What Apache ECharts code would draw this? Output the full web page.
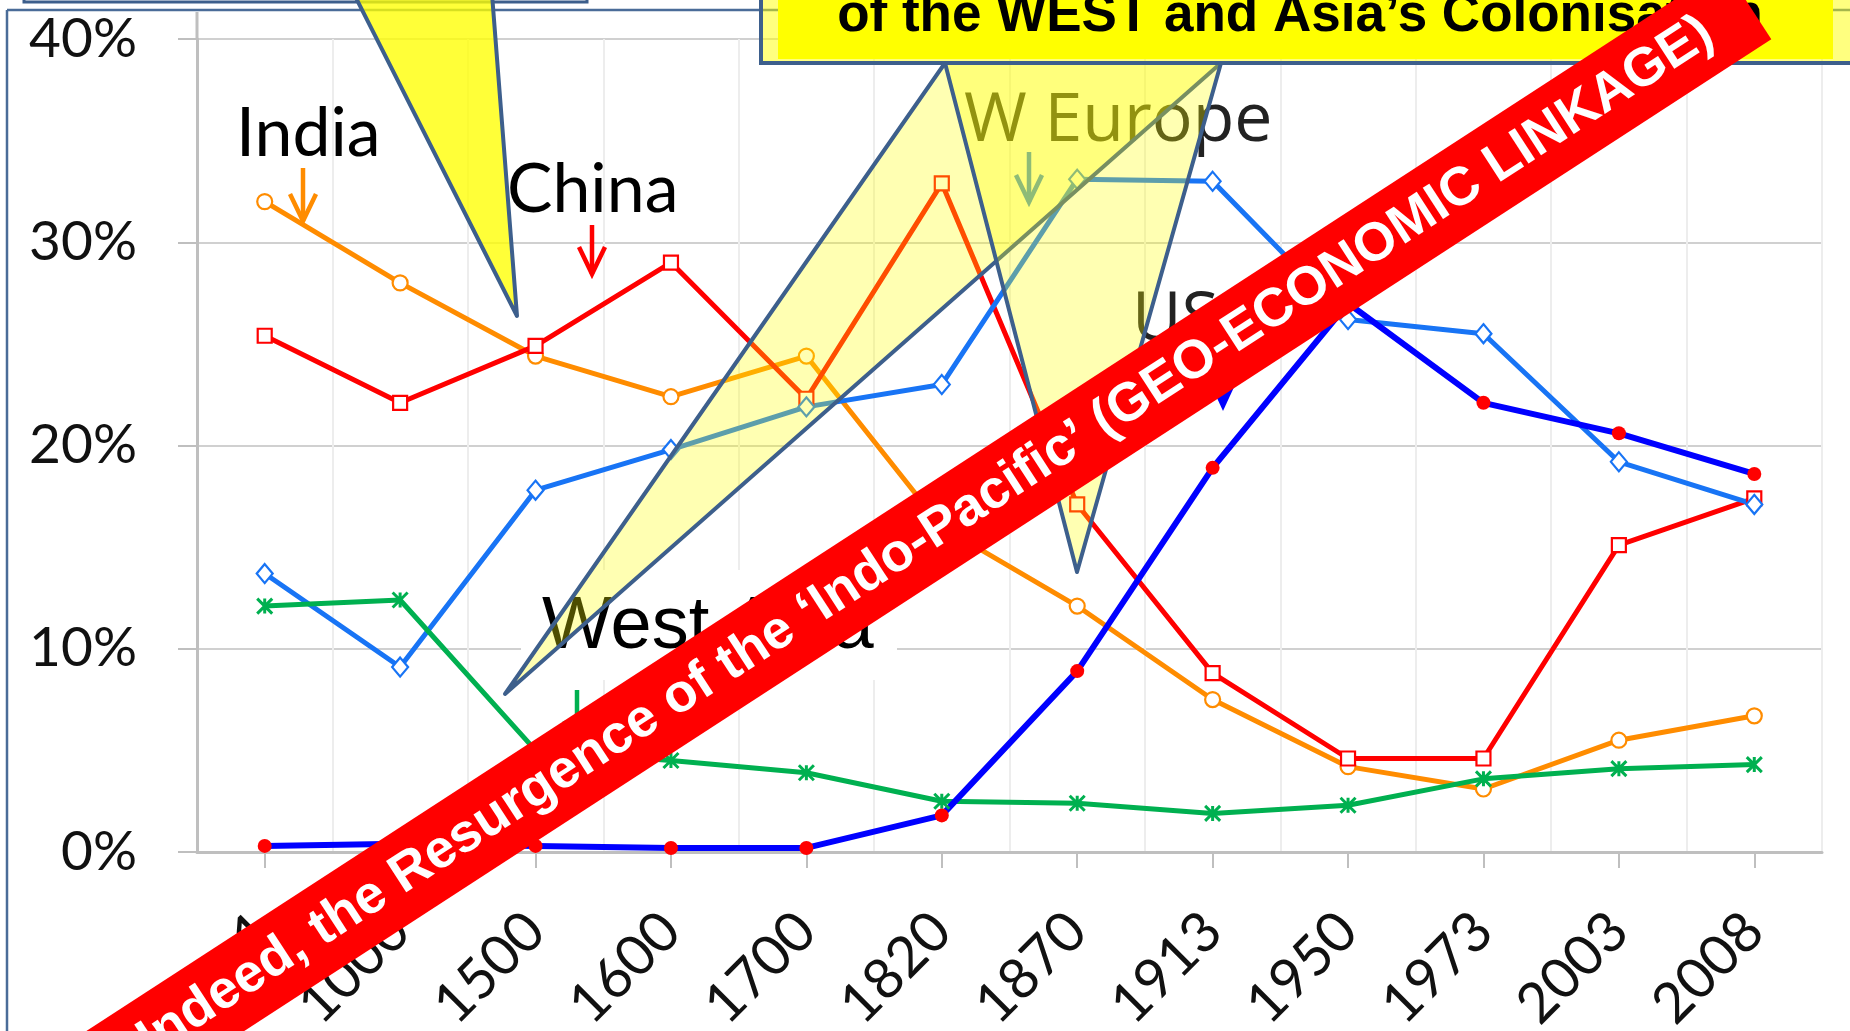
<!DOCTYPE html>
<html>
<head>
<meta charset="utf-8">
<script src="https://cdn.jsdelivr.net/npm/echarts@6/dist/echarts.min.js"></script>
<style>
  html, body { margin: 0; padding: 0; background: #fff; }
  #chart { width: 1850px; height: 1031px; }
</style>
</head>
<body>
<div id="chart"></div>
<script>
// ---- data (share of world GDP, %) ----
const categories = ['1', '1000', '1500', '1600', '1700', '1820', '1870', '1913', '1950', '1973', '2003', '2008'];
const india    = [32.0, 28.0, 24.4, 22.4, 24.4, 16.0, 12.1, 7.5, 4.2, 3.1, 5.5, 6.7];
const china    = [25.4, 22.1, 24.9, 29.0, 22.3, 32.9, 17.1, 8.8, 4.6, 4.6, 15.1, 17.4];
const wEurope  = [13.7, 9.1, 17.8, 19.8, 21.9, 23.0, 33.1, 33.0, 26.2, 25.5, 19.2, 17.1];
const us       = [0.3, 0.4, 0.3, 0.2, 0.2, 1.8, 8.9, 18.9, 27.0, 22.1, 20.6, 18.6];
const westAsia = [12.1, 12.4, 5.0, 4.5, 3.9, 2.5, 2.4, 1.9, 2.3, 3.6, 4.1, 4.3];
const yMin = 0, yMax = 40, yStep = 10;

const bannerText = 'Indeed, the Resurgence of the \u2018Indo-Pacific\u2019 (GEO-ECONOMIC LINKAGE)';
const calloutText = 'of the WEST and Asia\u2019s Colonisation';

const chart = echarts.init(document.getElementById('chart'), null, { renderer: 'canvas' });

const ORANGE = '#FF8C00', RED = '#FF0000', LBLUE = '#1874F5', DBLUE = '#0000FF', GREEN = '#00B050';
const EDGE = '#3D5F8C';
const calibri = 'Lato, "Noto Sans", sans-serif';

function lineSeries(name, data, color, symbol, size, fill, extra) {
  return Object.assign({
    name: name, type: 'line', data: data,
    symbol: symbol, symbolSize: size, showAllSymbol: true,
    lineStyle: { color: color, width: 5 },
    itemStyle: { color: fill, borderColor: color, borderWidth: 2.2 },
    emphasis: { disabled: true },
    z: 3
  }, extra || {});
}

function arrow(x, y1, y2, color, filled) {
  const els = [{
    type: 'polyline', z: 20,
    shape: { points: [[x, y1], [x, filled ? y2 - 20 : y2]] },
    style: { stroke: color, lineWidth: 4.5, fill: null }
  }];
  if (filled) {
    els.push({ type: 'polygon', z: 20,
      shape: { points: [[x - 12, y2 - 26], [x, y2], [x + 12, y2 - 26]] },
      style: { fill: color } });
  } else {
    els.push({ type: 'polyline', z: 20,
      shape: { points: [[x - 13, y2 - 27], [x, y2], [x + 13, y2 - 27]] },
      style: { stroke: color, lineWidth: 4.5, fill: null, lineJoin: 'miter' } });
  }
  return els;
}

const graphics = [].concat(
  [
    // outer frame lines
    { type: 'line', z: 10, shape: { x1: 7, y1: 10, x2: 1850, y2: 10 }, style: { stroke: '#4A6C98', lineWidth: 2.5 } },
    { type: 'line', z: 10, shape: { x1: 7, y1: 10, x2: 7, y2: 1031 }, style: { stroke: '#4A6C98', lineWidth: 2.5 } },
    // y axis extension above 40%
    { type: 'line', z: 10, shape: { x1: 197, y1: 12, x2: 197, y2: 39 }, style: { stroke: '#BFBFBF', lineWidth: 3 } },
    // labels
    { type: 'text', z: 20, style: { text: 'India', x: 236, y: 134, fill: '#000', font: '68px ' + calibri, textAlign: 'left', textVerticalAlign: 'middle' } },
    { type: 'text', z: 20, style: { text: 'China', x: 507, y: 190, fill: '#000', font: '68px ' + calibri, textAlign: 'left', textVerticalAlign: 'middle' } },
    { type: 'text', z: 20, style: { text: 'W Europe', x: 964, y: 122, fill: '#222', font: '68px "Open Sans", sans-serif', textAlign: 'left', textVerticalAlign: 'middle' } },
    { type: 'text', z: 20, style: { text: 'US', x: 1132, y: 321, fill: '#222', font: '68px "Open Sans", sans-serif', textAlign: 'left', textVerticalAlign: 'middle' } },
    { type: 'rect', z: 19, shape: { x: 521, y: 570, width: 376, height: 110 }, style: { fill: '#fff' } },
    { type: 'text', z: 20, style: { text: 'West Asia', x: 542, y: 628, fill: '#000', font: '74px "Liberation Sans", Arial, sans-serif', textAlign: 'left', textVerticalAlign: 'middle' } }
  ],
  arrow(303, 168, 221, ORANGE, false),
  arrow(592, 225, 274, RED, false),
  arrow(1029, 152, 202, LBLUE, false),
  arrow(1223, 345, 411, DBLUE, true),
  arrow(577, 690, 748, GREEN, false),
  [
    // semi-transparent callout pointers
    { type: 'polygon', z: 30, shape: { points: [[945, 63], [1221, 63], [505, 694]] },
      style: { fill: 'rgba(255,255,0,0.3)', stroke: EDGE, lineWidth: 4, lineJoin: 'round' } },
    { type: 'polygon', z: 30, shape: { points: [[945, 63], [1221, 63], [1077, 572]] },
      style: { fill: 'rgba(255,255,0,0.3)', stroke: EDGE, lineWidth: 4, lineJoin: 'round' } },
    // top-left callout (mostly off-page)
    { type: 'rect', z: 40, shape: { x: 24, y: -40, width: 563, height: 42 }, style: { fill: '#fff', stroke: EDGE, lineWidth: 3 } },
    { type: 'polygon', z: 41, shape: { points: [[354, -6], [492, -6], [517, 316]] },
      style: { fill: 'rgba(255,255,0,0.78)', stroke: EDGE, lineWidth: 4, lineJoin: 'round' } },
    // top-right callout box
    { type: 'rect', z: 40, shape: { x: 761, y: -20, width: 1120, height: 83 }, style: { fill: 'rgba(255,255,0,0.5)', stroke: EDGE, lineWidth: 4 } },
    { type: 'rect', z: 41, shape: { x: 778, y: -10, width: 1055, height: 69 }, style: { fill: '#FFFF00' } },
    { type: 'text', z: 42, style: { text: calloutText, x: 1300, y: 16, fill: '#000', font: 'bold 53px "Liberation Sans", Arial, sans-serif', textAlign: 'center', textVerticalAlign: 'middle' } },
    // red banner
    { type: 'group', z: 50, x: 926, y: 537, rotation: 33 * Math.PI / 180,
      children: [
        { type: 'rect', z: 50, shape: { x: -1150, y: -43, width: 2130, height: 86 }, style: { fill: '#FF0000' } },
        { type: 'text', z: 51, style: { text: bannerText, x: 0, y: 0, fill: '#fff', font: 'bold 54px "Liberation Sans", Arial, sans-serif', textAlign: 'center', textVerticalAlign: 'middle' } }
      ] }
  ]
);

const option = {
  backgroundColor: '#fff',
  animation: false,
  grid: { left: 197, right: 28, top: 39, bottom: 179, containLabel: false, outerBoundsMode: 'none' },
  xAxis: {
    type: 'category', data: categories, boundaryGap: true,
    axisLine: { show: true, lineStyle: { color: '#BFBFBF', width: 3 } },
    axisTick: { show: true, alignWithLabel: true, length: 16, lineStyle: { color: '#BFBFBF', width: 2 } },
    axisLabel: { rotate: 45, margin: 70, color: '#111', fontSize: 56, fontFamily: calibri, interval: 0 },
    splitLine: { show: true, lineStyle: { color: '#EDEDED', width: 2 } }
  },
  yAxis: {
    type: 'value', min: yMin, max: yMax, interval: yStep,
    axisLine: { show: true, lineStyle: { color: '#BFBFBF', width: 3 } },
    axisTick: { show: true, length: 19, lineStyle: { color: '#BFBFBF', width: 2 } },
    axisLabel: { formatter: '{value}%', margin: 60, color: '#111', fontSize: 55, fontFamily: calibri },
    splitLine: { show: true, lineStyle: { color: '#D0D0D0', width: 2 } }
  },
  series: [
    lineSeries('India', india, ORANGE, 'circle', 15, '#fff'),
    lineSeries('China', china, RED, 'rect', 14, '#fff'),
    lineSeries('W Europe', wEurope, LBLUE, 'diamond', [16, 19], '#fff'),
    lineSeries('West Asia', westAsia, GREEN, 'path://M0,0L10,10M10,0L0,10M5,0L5,10', 15, GREEN, { itemStyle: { color: GREEN, borderColor: GREEN, borderWidth: 3 } }),
    lineSeries('US', us, DBLUE, 'circle', 14, RED, { itemStyle: { color: RED, borderColor: RED, borderWidth: 0 }, lineStyle: { color: DBLUE, width: 6 } })
  ],
  graphic: { elements: graphics }
};

chart.setOption(option);
</script>
</body>
</html>
